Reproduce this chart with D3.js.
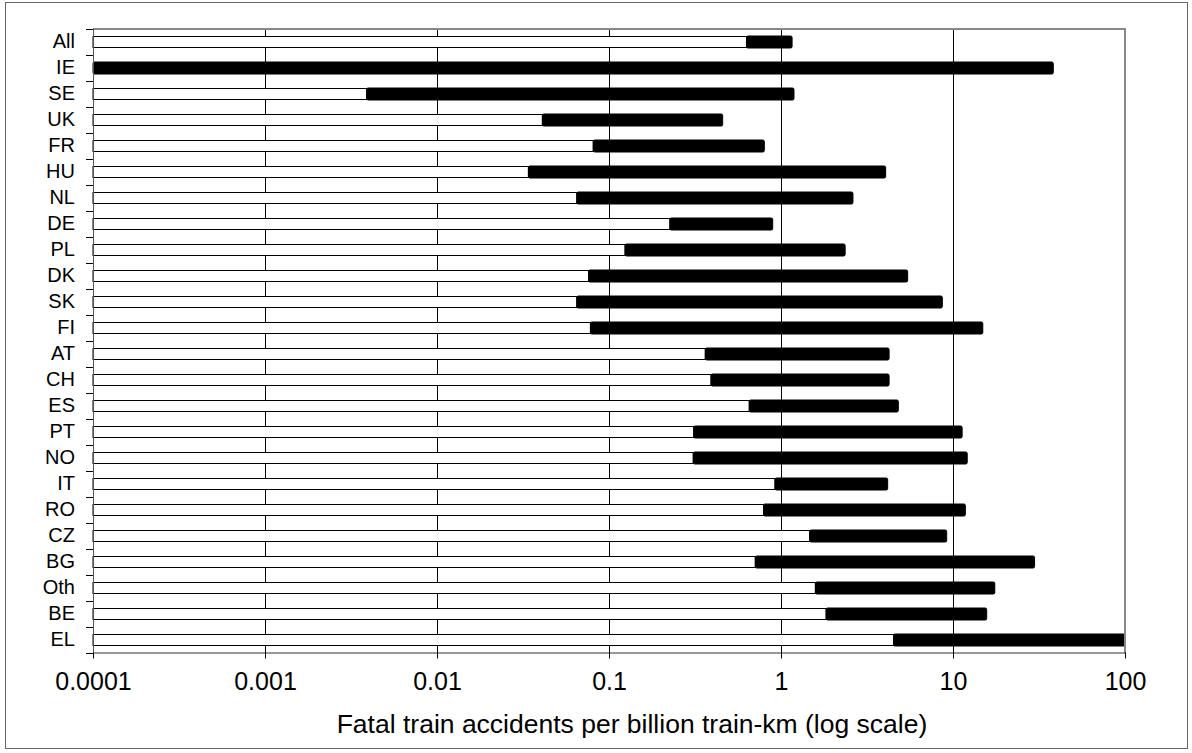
<!doctype html>
<html lang="en">
<head>
<meta charset="utf-8">
<title>Fatal train accidents per billion train-km</title>
<script src="https://cdn.jsdelivr.net/npm/d3@7"></script>
<style>
  html, body { margin: 0; padding: 0; background: #fff; }
  text { font-family: "Liberation Sans", Arial, sans-serif; fill: #000; }
</style>
</head>
<body>
<svg id="chart" width="1192" height="753"></svg>
<script>
// categories, top to bottom
var countries = ["All", "IE", "SE", "UK", "FR", "HU", "NL", "DE", "PL", "DK", "SK", "FI",
                 "AT", "CH", "ES", "PT", "NO", "IT", "RO", "CZ", "BG", "Oth", "BE", "EL"];
// lower end of each range (white bar runs from the axis to here)
var lowValues = [0.63, 0.0001, 0.0039, 0.041, 0.081, 0.034, 0.065, 0.226, 0.124, 0.076, 0.065, 0.078,
                 0.363, 0.392, 0.654, 0.311, 0.309, 0.923, 0.792, 1.47, 0.709, 1.585, 1.83, 4.52];
// upper end of each range (black bar from low to high)
var highValues = [1.16, 38.3, 1.19, 0.458, 0.80, 4.06, 2.62, 0.895, 2.36, 5.45, 8.67, 14.9,
                  4.25, 4.25, 4.81, 11.3, 12.1, 4.17, 11.8, 9.19, 29.8, 17.5, 15.7, 100];
var tickValues = [0.0001, 0.001, 0.01, 0.1, 1, 10, 100];
var tickLabels = ["0.0001", "0.001", "0.01", "0.1", "1", "10", "100"];
var axisTitle = "Fatal train accidents per billion train-km (log scale)";

var svg = d3.select("#chart");
// note: "top" is taken by window.top, so use plot* names
var plotLeft = 93, plotRight = 1125, plotTop = 29, plotBottom = 653;

var x = d3.scaleLog().domain([tickValues[0], tickValues[tickValues.length - 1]]).range([plotLeft, plotRight]);
var y = d3.scaleBand().domain(countries).range([plotTop, plotBottom]);

// outer chart frame
svg.append("rect")
  .attr("x", 5.5).attr("y", 2.5)
  .attr("width", 1182).attr("height", 746)
  .attr("fill", "none").attr("stroke", "#666").attr("stroke-width", 1);

// vertical gridlines
svg.append("g").selectAll("line")
  .data(tickValues.slice(1, -1))
  .join("line")
  .attr("x1", function(d) { return Math.round(x(d)) + 0.5; })
  .attr("x2", function(d) { return Math.round(x(d)) + 0.5; })
  .attr("y1", plotTop).attr("y2", plotBottom)
  .attr("stroke", "#000").attr("stroke-width", 1);

var rows = countries.map(function(c, i) { return { name: c, low: lowValues[i], high: highValues[i] }; });

// white bars (axis -> low)
svg.append("g").selectAll("rect")
  .data(rows.filter(function(d) { return d.low > tickValues[0]; }))
  .join("rect")
  .attr("x", plotLeft)
  .attr("y", function(d) { return y(d.name) + y.bandwidth() / 2 - 5.5; })
  .attr("width", function(d) { return x(d.low) - plotLeft; })
  .attr("height", 11)
  .attr("fill", "#fff").attr("stroke", "#000").attr("stroke-width", 1);

// black bars (low -> high)
svg.append("g").selectAll("rect")
  .data(rows)
  .join("rect")
  .attr("x", function(d) { return x(d.low); })
  .attr("y", function(d) { return y(d.name) + y.bandwidth() / 2 - 6; })
  .attr("width", function(d) { return x(d.high) - x(d.low); })
  .attr("height", 12)
  .attr("rx", 1.5)
  .attr("fill", "#000").attr("stroke", "#000").attr("stroke-width", 1);

// top and right plot border (grey)
svg.append("path")
  .attr("d", "M" + plotLeft + "," + plotTop + "H" + plotRight + "V" + plotBottom)
  .attr("fill", "none").attr("stroke", "#888").attr("stroke-width", 2);

// left axis: line, ticks between categories, labels
svg.append("line")
  .attr("x1", plotLeft + 0.5).attr("x2", plotLeft + 0.5)
  .attr("y1", plotTop).attr("y2", plotBottom)
  .attr("stroke", "#555").attr("stroke-width", 1);

var bounds = countries.map(function(c) { return y(c); }).concat([plotBottom]);
svg.append("g").selectAll("line")
  .data(bounds)
  .join("line")
  .attr("x1", plotLeft - 7).attr("x2", plotLeft)
  .attr("y1", function(d) { return Math.round(d) + 0.5; })
  .attr("y2", function(d) { return Math.round(d) + 0.5; })
  .attr("stroke", "#000");

var yAxis = svg.append("g")
  .attr("transform", "translate(" + plotLeft + ",0)")
  .call(d3.axisLeft(y).tickSize(0).tickPadding(18));
yAxis.select(".domain").remove();
yAxis.selectAll("text")
  .style("font-family", "'Liberation Sans', Arial, sans-serif")
  .style("font-size", "20px").attr("fill", "#000");

// bottom axis
var xAxis = svg.append("g")
  .attr("transform", "translate(0," + (plotBottom - 0.5) + ")")
  .call(d3.axisBottom(x).tickValues(tickValues)
    .tickFormat(function(d, i) { return tickLabels[i]; })
    .tickSizeOuter(0).tickSizeInner(6).tickPadding(13.5));
xAxis.select(".domain").attr("stroke", "#333");
xAxis.selectAll(".tick line").attr("stroke", "#000");
xAxis.selectAll("text")
  .style("font-family", "'Liberation Sans', Arial, sans-serif")
  .style("font-size", "25px").attr("fill", "#000");

// axis title
svg.append("text")
  .attr("x", 632)
  .attr("y", 733)
  .attr("text-anchor", "middle")
  .style("font-size", "26.5px")
  .text(axisTitle);
</script>
</body>
</html>
